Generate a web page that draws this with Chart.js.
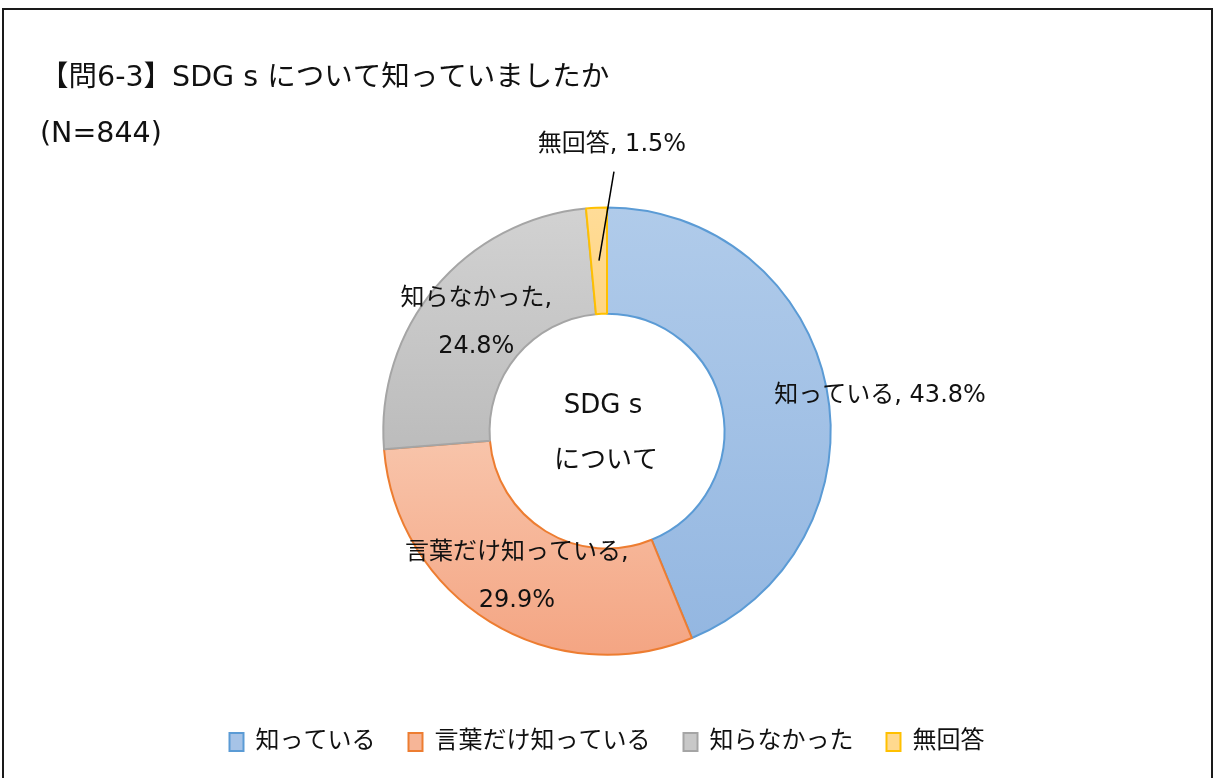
<!DOCTYPE html>
<html lang="ja">
<head>
<meta charset="utf-8">
<script src="https://cdn.jsdelivr.net/npm/chart.js@4.4.1/dist/chart.umd.min.js"></script>
<style>
  html, body { margin: 0; padding: 0; background: #fff; }
  #frame {
    position: absolute; left: 2px; top: 8px; width: 1211px; height: 800px;
    box-sizing: border-box; border: 2px solid #1a1a1a;
  }
  #wrap { position: absolute; left: 0; top: 0; width: 1214px; height: 778px; }
</style>
</head>
<body>
<div id="frame"></div>
<div id="wrap"><canvas id="sdgs-chart" width="1214" height="778"></canvas></div>
<script>
// 回答データ
const categories = ['知っている', '言葉だけ知っている', '知らなかった', '無回答'];
const percents = [43.8, 29.9, 24.8, 1.5];
const titleText = '【問6-3】SDG s について知っていましたか';
const subtitleText = '(N=844)';
const centerLines = ['SDG s', 'について'];

// 色（上→下のグラデーション、枠線、凡例）
const gradTop = ['#b0cbea', '#f8c4aa', '#d2d2d2', '#ffdc98'];
const gradBottom = ['#94b7e1', '#f4a583', '#bcbcbc', '#ffd582'];
const borderColors = ['#5b9bd5', '#ed7d31', '#a5a5a5', '#ffc000'];
const legendFill = ['#a6c3e7', '#f6b597', '#c8c8c8', '#ffd98f'];

// 英数字は幅広の DejaVu、かなは Noto CJK
const FONT = '"DejaVu Sans", "Noto Sans CJK JP", sans-serif';
const CUT = 0.525;
const BORDER = 2;

// 各扇形の上端・下端に合わせて縦グラデーションを作る
function sliceGradient(context) {
  const chart = context.chart;
  const area = chart.chartArea;
  const i = context.dataIndex;
  if (!area || i === undefined) return gradTop[i] || '#ccc';
  const cx = (area.left + area.right) / 2;
  const cy = (area.top + area.bottom) / 2;
  const outer = (Math.min(area.width, area.height) - BORDER) / 2;
  const inner = outer * CUT;
  const total = percents.reduce((a, b) => a + b, 0);
  let start = 0;
  for (let k = 0; k < i; k++) start += percents[k];
  const a0 = -Math.PI / 2 + (start / total) * Math.PI * 2;
  const a1 = a0 + (percents[i] / total) * Math.PI * 2;
  let minY = Infinity, maxY = -Infinity;
  for (let s = 0; s <= 60; s++) {
    const a = a0 + (a1 - a0) * s / 60;
    [outer, inner].forEach(r => {
      const y = cy + r * Math.sin(a);
      minY = Math.min(minY, y);
      maxY = Math.max(maxY, y);
    });
  }
  const g = chart.ctx.createLinearGradient(0, minY, 0, maxY);
  g.addColorStop(0, gradTop[i]);
  g.addColorStop(1, gradBottom[i]);
  return g;
}

// ラベル位置（扇形の中心点からのずれ）
const labelSetup = [
  { lines: [categories[0] + ', ' + percents[0].toFixed(1) + '%'], dx: 0, dy: -2, align: 'left' },
  { lines: [categories[1] + ',', percents[1].toFixed(1) + '%'], dx: -1, dy: 0, align: 'center' },
  { lines: [categories[2] + ',', percents[2].toFixed(1) + '%'], dx: 0, dy: 1, align: 'center' },
  { lines: [categories[3] + ', ' + percents[3].toFixed(1) + '%'], dx: 13, dy: -116, align: 'center', leader: true }
];

const sliceLabels = {
  id: 'sliceLabels',
  afterDatasetsDraw(chart) {
    const ctx = chart.ctx;
    const meta = chart.getDatasetMeta(0);
    ctx.save();
    ctx.fillStyle = '#111';
    ctx.textBaseline = 'middle';
    ctx.font = '24px ' + FONT;
    meta.data.forEach((arc, i) => {
      const set = labelSetup[i];
      const p = arc.tooltipPosition();
      const x = p.x + set.dx;
      const y = p.y + set.dy;
      if (set.leader) {
        ctx.strokeStyle = '#000';
        ctx.lineWidth = 1.5;
        ctx.beginPath();
        ctx.moveTo(p.x, p.y);
        ctx.lineTo(x + 2, y + 27);
        ctx.stroke();
      }
      ctx.textAlign = set.align;
      const h = 48;
      set.lines.forEach((t, j) => {
        ctx.fillText(t, x, y + (j - (set.lines.length - 1) / 2) * h);
      });
    });
    // 中央の文字
    const cx = (chart.chartArea.left + chart.chartArea.right) / 2;
    const cy = (chart.chartArea.top + chart.chartArea.bottom) / 2;
    ctx.font = '26px ' + FONT;
    ctx.textAlign = 'center';
    ctx.fillText(centerLines[0], cx - 4, cy - 25);
    ctx.fillText(centerLines[1], cx - 1, cy + 30);
    ctx.restore();
  }
};

const ctx = document.getElementById('sdgs-chart').getContext('2d');
new Chart(ctx, {
  type: 'doughnut',
  data: {
    labels: categories,
    datasets: [{
      data: percents,
      backgroundColor: sliceGradient,
      borderColor: borderColors,
      borderWidth: BORDER,
      hoverOffset: 0
    }]
  },
  options: {
    responsive: false,
    animation: false,
    cutout: (CUT * 100) + '%',
    layout: { padding: { left: 40, right: 40, top: 0, bottom: 14 } },
    plugins: {
      title: {
        display: true,
        text: titleText,
        align: 'start',
        color: '#111',
        font: { family: FONT, size: 28.5, weight: 'normal', lineHeight: 1.2 },
        padding: { top: 61, bottom: 0 }
      },
      subtitle: {
        display: true,
        text: subtitleText,
        align: 'start',
        color: '#111',
        font: { family: FONT, size: 28.5, weight: 'normal', lineHeight: 1.2 },
        padding: { top: 22, bottom: 55 }
      },
      legend: {
        position: 'bottom',
        title: { display: true, text: '', font: { size: 1 }, padding: { top: 40, bottom: 0 } },
        labels: {
          color: '#111',
          font: { family: FONT, size: 24 },
          boxWidth: 14,
          boxHeight: 18,
          padding: 33,
          generateLabels: (chart) => categories.map((c, i) => ({
            text: c,
            fillStyle: legendFill[i],
            strokeStyle: borderColors[i],
            lineWidth: 2,
            fontColor: '#111',
            index: i,
            hidden: false
          }))
        }
      },
      tooltip: { enabled: false }
    }
  },
  plugins: [sliceLabels]
});
</script>
</body>
</html>
